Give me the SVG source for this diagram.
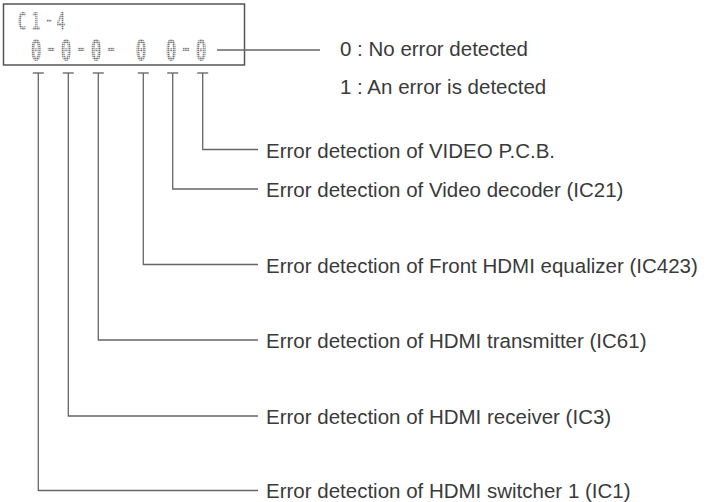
<svg xmlns="http://www.w3.org/2000/svg" width="716" height="502" viewBox="0 0 716 502">
<defs>
<pattern id="dots" width="2.8" height="2" patternUnits="userSpaceOnUse">
<rect width="2.1" height="1.4" fill="#6f6f6f"/>
</pattern>
</defs>
<style>
.lbl{font-family:"Liberation Sans",Arial,sans-serif;font-size:20.5px;fill:#3a3a3a}
.lcd{font-family:"DejaVu Sans Mono",monospace;font-weight:bold;fill:url(#dots);text-anchor:middle}
.d{font-weight:normal;font-size:40px}
.ln{fill:none;stroke:#666;stroke-width:1.3}
.tk{fill:none;stroke:#777;stroke-width:1.6}
</style>
<rect width="716" height="502" fill="#fff"/>
<g id="display">
<rect x="3.5" y="4" width="241" height="61" fill="none" stroke="#555" stroke-width="1.5"/>
<text class="lcd" transform="scale(0.6,1)" y="30" font-size="24.6" x="36.7 60 81.7 101.7">C1<tspan class="d" font-size="30" style="font-size:30px" y="29.5">-</tspan><tspan y="30">4</tspan></text>
<text class="lcd" transform="scale(0.6,1)" y="61.5" font-size="31" x="60 85 110 135 160 185 210 235 260 285 310 335">0<tspan class="d">-</tspan><tspan>0</tspan><tspan class="d">-</tspan><tspan>0</tspan><tspan class="d">-</tspan><tspan> 0 0</tspan><tspan class="d">-</tspan><tspan>0</tspan></text>
</g>
<g id="legend">
<text class="lbl" x="340" y="56">0 : No error detected</text>
<text class="lbl" x="340" y="94">1 : An error is detected</text>
</g>
<g id="connectors">
<line class="ln" x1="217" y1="50" x2="320" y2="50"/>
<path class="tk" d="M32.8 73H43.8M62.8 73H73.8M92.8 73H103.8M137.8 73H148.8M167.2 73H178.2M197.2 73H208.2"/>
<path class="ln" d="M202.7 73V149.5H258"/>
<path class="ln" d="M172.7 73V189H258"/>
<path class="ln" d="M143.3 73V264.5H258"/>
<path class="ln" d="M98.3 73V340H258"/>
<path class="ln" d="M68.3 73V416H258"/>
<path class="ln" d="M38.3 73V490.5H258"/>
</g>
<g id="n-video"><text class="lbl" x="266" y="157.5">Error detection of VIDEO P.C.B.</text></g>
<g id="n-decoder"><text class="lbl" x="266" y="197">Error detection of Video decoder (IC21)</text></g>
<g id="n-front"><text class="lbl" x="266" y="272.5">Error detection of Front HDMI equalizer (IC423)</text></g>
<g id="n-transmitter"><text class="lbl" x="266" y="348">Error detection of HDMI transmitter (IC61)</text></g>
<g id="n-receiver"><text class="lbl" x="266" y="424">Error detection of HDMI receiver (IC3)</text></g>
<g id="n-switcher"><text class="lbl" x="266" y="497.5">Error detection of HDMI switcher 1 (IC1)</text></g>
</svg>
